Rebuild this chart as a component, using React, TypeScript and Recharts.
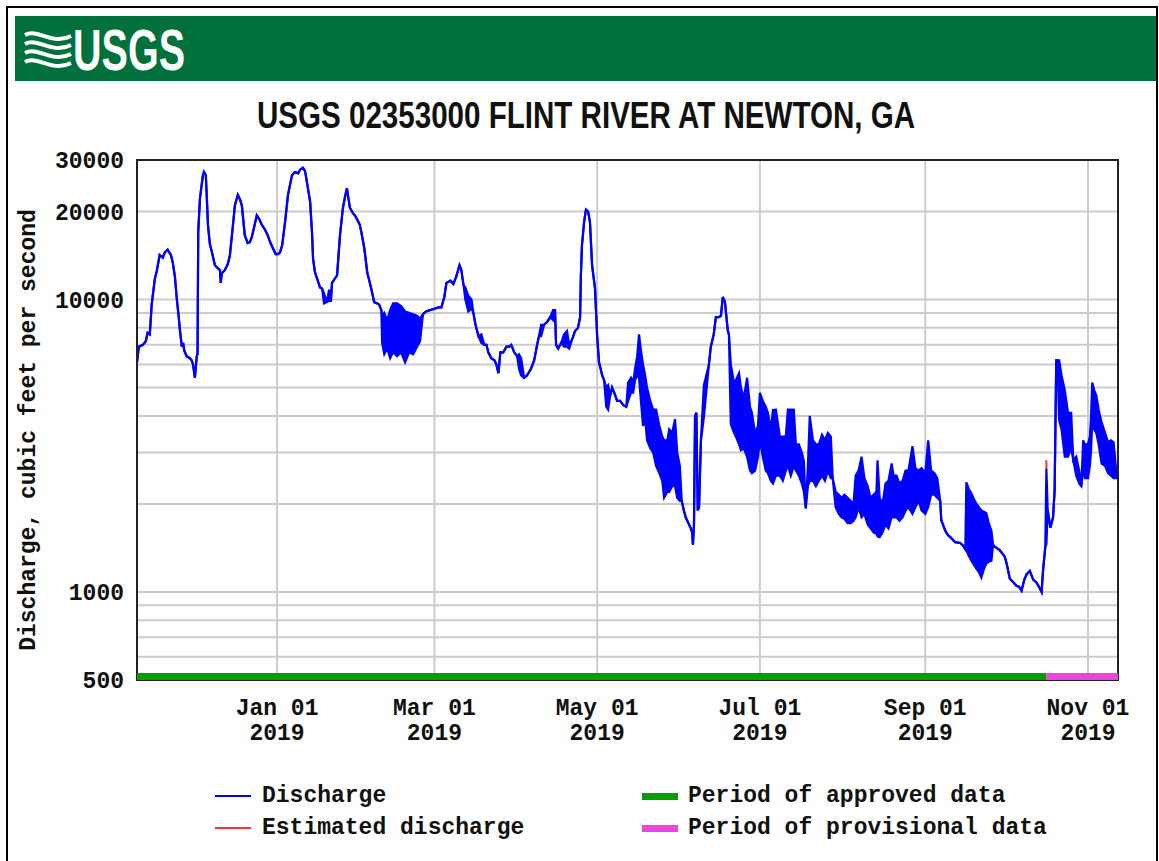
import {
  ComposedChart, Area, Line, XAxis, YAxis, CartesianGrid, ReferenceArea, Legend,
} from 'recharts'

const MONO = "'Liberation Mono', 'DejaVu Sans Mono', monospace"
const SANS = "'Liberation Sans', Arial, sans-serif"
const DAY = 86400000

const BLUE = '#0000ff'
const RED = '#ff3030'
const GREEN = '#00a000'
const PINK = '#ee44dd'

// [day of month, low, high?] -- readings of discharge (cfs)
type Pt = [number, number, number?]

const nov2018: Pt[] = [
  [9.5, 6100], [10.2, 6900], [11.7, 7000], [12.8, 7200], [13.5, 7700], [14.3, 7600], [15.0, 9600],
  [16.2, 11800], [16.9, 12500], [18.0, 14200], [19.2, 13900], [19.9, 14500], [21.0, 14800],
  [22.2, 14200], [22.9, 13400], [23.7, 12000], [24.4, 10100], [25.2, 8600], [25.5, 8000],
  [26.3, 6900], [26.8, 7100], [27.2, 6700], [28.1, 6400], [29.3, 6300], [30.0, 6200], [30.5, 6000],
]

const dec2018: Pt[] = [
  [1.2, 5400], [1.9, 6400], [2.2, 6500], [2.45, 17000], [3.1, 22200], [4.2, 26600], [4.6, 27300],
  [5.3, 26600], [5.7, 22000], [6.1, 18000], [6.8, 15500], [7.6, 14500], [8.7, 13100], [9.8, 12800],
  [10.6, 12600], [10.9, 11400], [11.3, 12300], [12.4, 12600], [13.5, 13200], [14.3, 14100],
  [15.4, 17700], [16.2, 21000], [17.3, 22800], [18.1, 22000], [18.8, 21000], [19.9, 16600],
  [21.0, 15600], [21.8, 15700], [22.5, 16300], [23.6, 18000], [24.4, 19400], [25.5, 18700],
  [26.3, 18000], [27.4, 17400], [28.5, 16600], [29.3, 15800], [30.4, 15000], [31.5, 14300],
]

const jan2019: Pt[] = [
  [1.4, 14300], [2.1, 14500], [2.9, 15300], [4.0, 18400], [5.1, 22800], [6.6, 26600], [7.7, 27300],
  [8.9, 27000], [9.6, 27800], [10.7, 28200], [11.5, 27500], [12.2, 25200], [13.4, 21600],
  [14.1, 17000], [14.5, 13800], [15.2, 12400], [16.0, 11800], [17.1, 11000], [17.9, 10900],
  [18.6, 9700, 10500], [19.7, 9800], [20.5, 9900, 10800], [21.2, 9900], [21.6, 11400], [22.7, 11800],
  [23.5, 12100], [24.6, 16600], [25.7, 20600], [26.5, 22500], [27.2, 24000], [28.3, 20600],
  [29.5, 19700], [30.2, 19400], [31.3, 18600],
]

const feb2019: Pt[] = [
  [1.0, 18000], [1.6, 17000], [2.7, 15000], [3.8, 12400], [5.3, 10900], [6.4, 9800], [7.6, 9700],
  [8.3, 9600], [9.1, 9200], [9.4, 7100, 8800], [10.2, 6500, 9000], [11.3, 6800, 8500],
  [12.4, 6300, 9200], [13.5, 6600, 9700], [15.0, 6400, 9700], [16.5, 6600, 9500], [18.0, 6100, 9100],
  [19.5, 6600, 9000], [21.0, 6500, 8900], [22.5, 6900, 8800], [23.6, 7200, 8600], [24.7, 8900],
  [25.8, 9100], [27.3, 9200],
]

const mar2019: Pt[] = [
  [1.0, 9300], [2.5, 9400], [3.6, 9400], [4.7, 10200], [5.5, 11400], [7.0, 11600], [8.1, 11300],
  [9.2, 12000], [10.4, 13100], [11.1, 12600], [11.9, 11200], [12.6, 10000, 11000], [13.7, 9100, 10300],
  [14.9, 9300, 10000], [15.6, 9000], [16.4, 8200], [17.5, 7500], [18.6, 7100, 7600], [19.7, 7000],
  [20.5, 7000], [21.2, 6600], [22.3, 6300], [23.5, 6200], [24.2, 6000], [25.0, 5600], [25.7, 6600],
  [26.8, 6600], [28.0, 6900], [29.1, 6900], [29.8, 7000], [30.9, 6600],
]

const apr2019: Pt[] = [
  [1.0, 6400], [1.7, 5800, 6500], [2.5, 5500, 6300], [3.6, 5400], [4.7, 5500], [6.2, 5800], [7.4, 6200],
  [8.5, 7000], [9.2, 7500], [10.0, 7500, 8200], [11.1, 8200], [12.3, 8400], [13.4, 8700],
  [14.5, 8500, 9200], [15.2, 9200], [15.6, 7000], [16.4, 6800], [17.5, 7100], [18.6, 6900, 7600],
  [19.7, 6900, 7800], [20.5, 6800, 7000], [21.6, 7300], [22.7, 7800], [23.8, 8000], [24.6, 8700],
  [24.9, 12100], [25.3, 15300], [26.1, 18400], [26.8, 20300], [27.6, 20000], [28.3, 18400],
  [29.1, 13100], [30.2, 10900],
]

const may2019: Pt[] = [
  [1.0, 7500], [1.7, 6100], [2.9, 5500], [3.6, 5300], [4.4, 4300, 5000], [5.1, 4200, 5100], [5.9, 4700],
  [6.6, 5000], [7.4, 4800], [8.5, 4500], [9.6, 4500], [10.8, 4350], [11.9, 4300], [12.6, 4500, 5200],
  [13.7, 4800, 5400], [14.5, 4800, 5200], [15.2, 5300, 5800], [16.0, 5500, 6400], [16.7, 5400, 7600],
  [17.5, 4400, 6600], [18.2, 3700, 6000], [19.0, 3900, 5500], [19.7, 3300, 5000], [20.9, 3100, 4500],
  [22.0, 3000, 4200], [23.1, 2700, 4200], [24.3, 2550, 3700], [25.4, 2400, 3400], [26.1, 2100, 3300],
  [27.3, 2200, 3300], [28.0, 2200, 3600], [29.1, 2300, 3500], [30.2, 2300, 3900], [31.0, 2100, 3000],
]

const jun2019: Pt[] = [
  [1.0, 2050, 2700], [1.7, 2050], [2.5, 1900], [3.2, 1800], [4.2, 1720], [5.1, 1650], [5.6, 1600],
  [5.9, 1450], [6.3, 1700], [6.7, 4000], [7.2, 4100], [7.7, 1900], [8.2, 1950], [8.9, 3300],
  [10.0, 3950, 5100], [11.9, 6000], [12.6, 6900], [13.7, 7600], [14.5, 8700], [15.6, 8700],
  [16.4, 8800], [17.1, 10200], [17.9, 9800], [18.3, 9000], [19.0, 7800], [19.4, 7600],
  [20.1, 3750, 6000], [21.3, 3500, 5200], [22.0, 3400, 5300], [23.2, 3200, 5600], [23.9, 3050, 5000],
  [25.0, 3100, 4600], [26.2, 2900, 5400], [27.3, 2600, 4300], [28.0, 2550, 4100], [29.2, 2600, 3500],
  [30.3, 2900, 3700],
]

const jul2019: Pt[] = [
  [1.0, 3300, 4800], [2.1, 2900, 4500], [3.2, 2600, 4300], [4.0, 2550, 4100], [5.1, 2400, 3600],
  [5.9, 2350, 4190], [7.0, 2500, 4200], [8.5, 2500, 3400], [9.6, 2400, 3400], [10.7, 2600, 3400],
  [11.5, 2700, 4200], [12.6, 2500, 4200], [13.7, 2700, 4200], [14.5, 2600, 3200], [15.6, 2500, 3200],
  [16.7, 2350, 3000], [17.5, 2200, 2800], [18.2, 1930], [19.0, 2300, 2700], [19.7, 2400, 4000],
  [20.9, 2400, 3300], [22.0, 2300, 3200], [23.1, 2400, 3200], [24.3, 2500, 3450], [25.4, 2400, 3300],
  [26.5, 2600, 3500], [27.6, 2450, 3400], [28.3, 2450], [29.4, 1950, 2200], [30.6, 1850, 2150],
  [31.6, 1800, 2100],
]

const aug2019: Pt[] = [
  [1.7, 1780, 2150], [2.9, 1720, 2100], [4.0, 1720, 2050], [5.1, 1750, 2000], [5.9, 1800, 2500],
  [7.0, 1950, 2600], [8.1, 1800, 2900], [9.2, 1850, 2450], [10.4, 1700, 2300], [11.5, 1650, 2100],
  [12.6, 1600, 2150], [13.7, 1580, 2200], [14.1, 1550, 2820], [14.9, 1540, 2100], [16.0, 1600, 2000],
  [17.1, 1700, 2350], [18.2, 1650, 2400], [19.4, 1800, 2750], [20.1, 1800, 2500], [21.2, 1800, 2500],
  [22.3, 1750, 2350], [23.5, 1800, 2400], [24.6, 1900, 2600], [25.7, 1950, 2600], [27.2, 1850, 3150],
  [28.3, 1950, 2650], [29.5, 2050, 2600], [30.6, 1900, 2650],
]

const sep2019: Pt[] = [
  [1.0, 1850, 2550], [2.1, 1950, 3300], [3.2, 2150, 2600], [4.4, 2150, 2550], [5.5, 2100, 2450],
  [6.6, 2050], [7.0, 1760], [8.5, 1620], [9.6, 1560], [10.4, 1540], [12.2, 1480], [14.1, 1470],
  [15.2, 1440], [16.0, 1400], [16.4, 1390, 2370], [17.3, 1330, 2250], [18.3, 1280, 2170],
  [19.2, 1240, 2080], [20.2, 1200, 2000], [21.1, 1170, 1950], [22.0, 1120, 1900], [23.0, 1200, 1880],
  [23.9, 1250, 1860], [24.8, 1270, 1720], [25.8, 1280, 1620], [26.4, 1450], [27.0, 1430],
  [28.9, 1390], [30.0, 1350], [30.8, 1320],
]

const oct2019: Pt[] = [
  [1.5, 1250], [2.7, 1110], [4.0, 1080], [5.2, 1050], [6.2, 1040], [7.1, 1010], [8.1, 1100],
  [9.0, 1150], [10.2, 1180], [11.5, 1100], [12.6, 1080], [13.4, 1050], [14.6, 1000], [15.2, 1200],
  [16.0, 1430], [16.4, 1450, 2650], [16.9, 1900], [17.9, 1660], [18.9, 1800], [19.5, 2230],
  [20.1, 6200], [20.5, 6200], [21.2, 3870, 6200], [22.1, 3580, 5500], [23.3, 2900, 4900],
  [24.5, 2900, 4100], [25.7, 3100, 4100], [26.5, 2820], [27.6, 2500, 2900], [28.7, 2350, 2600],
  [29.5, 2300], [30.2, 2700, 3300], [30.8, 2450, 3200],
]

const nov2019: Pt[] = [
  [1.0, 2450, 3200], [1.7, 2700, 3400], [2.1, 3000, 3900], [2.6, 3800, 5200], [3.3, 3600, 4900],
  [4.1, 3500, 4700], [5.0, 3200, 4200], [6.1, 2750, 3800], [7.4, 2700, 3500], [8.5, 2550, 3250],
  [9.6, 2500, 3300], [10.6, 2450, 3250], [11.5, 2450, 2650], [12.2, 2450],
]

const months: [number, number, Pt[]][] = [
  [2018, 10, nov2018], [2018, 11, dec2018], [2019, 0, jan2019], [2019, 1, feb2019],
  [2019, 2, mar2019], [2019, 3, apr2019], [2019, 4, may2019], [2019, 5, jun2019],
  [2019, 6, jul2019], [2019, 7, aug2019], [2019, 8, sep2019], [2019, 9, oct2019], [2019, 10, nov2019],
]

// estimated discharge (Oct 16, 2019) and data-status periods
const estimated: Pt[] = [[16.35, 2820], [16.45, 2650]]
const PROVISIONAL_START = Date.UTC(2019, 9, 16, 10)

const T0 = Date.UTC(2018, 10, 9, 12)
const T1 = Date.UTC(2019, 10, 12, 6)

const xTicks = [
  Date.UTC(2019, 0, 1), Date.UTC(2019, 2, 1), Date.UTC(2019, 4, 1),
  Date.UTC(2019, 6, 1), Date.UTC(2019, 8, 1), Date.UTC(2019, 10, 1),
]
const yTicks = [500, 600, 700, 800, 900, 1000, 2000, 3000, 4000, 5000, 6000, 7000, 8000, 9000, 10000, 20000, 30000]
const yLabeled = [500, 1000, 10000, 20000, 30000]
const MON = ['Jan', 'Feb', 'Mar', 'Apr', 'May', 'Jun', 'Jul', 'Aug', 'Sep', 'Oct', 'Nov', 'Dec']

const LEGEND_ORDER = ['Discharge', 'Estimated discharge', 'Period of approved data', 'Period of provisional data']

const toT = (y: number, m: number, d: number) => Date.UTC(y, m, 1) + (d - 1) * DAY

const discharge = months.flatMap(([y, m, pts]) =>
  pts.map(([d, lo, hi]) => ({ t: toT(y, m, d), range: [lo, hi ?? lo] }))
)
const estimatedData = estimated.map(([d, v]) => ({ t: toT(2019, 9, d), v }))
const approvedData = [{ t: T0, v: 500 }, { t: PROVISIONAL_START, v: 500 }]
const provisionalData = [{ t: PROVISIONAL_START, v: 500 }, { t: T1, v: 500 }]

function DateTick({ x, y, payload }: any) {
  const d = new Date(payload.value)
  return (
    <text textAnchor="middle" fontFamily={MONO} fontWeight={700} fontSize={23} fill="#111">
      <tspan x={x} y={y + 35}>{`${MON[d.getUTCMonth()]} 01`}</tspan>
      <tspan x={x} y={y + 60}>{d.getUTCFullYear()}</tspan>
    </text>
  )
}

function LegendBox({ payload }: any) {
  const items = LEGEND_ORDER.map(n => (payload || []).find((p: any) => p.value === n)).filter(Boolean)
  return (
    <div style={{ position: 'relative', width: 1159, height: 64, fontFamily: MONO, fontWeight: 700, fontSize: 23, color: '#111' }}>
      {items.map((e: any, i: number) => {
        const period = String(e.value).startsWith('Period')
        return (
          <div
            key={e.value}
            style={{
              position: 'absolute', left: i < 2 ? 215 : 642, top: (i % 2) * 32, height: 32,
              display: 'flex', alignItems: 'center', whiteSpace: 'nowrap',
            }}
          >
            <span style={{ display: 'inline-block', width: 36, height: period ? 7 : 2, background: e.color, marginRight: period ? 10 : 11 }} />
            {e.value}
          </div>
        )
      })}
    </div>
  )
}

function Header() {
  return (
    <svg width={1159} height={861} style={{ position: 'absolute', left: 0, top: 0 }}>
      <rect x={7} y={7} width={1150} height={880} fill="none" stroke="#000" strokeWidth={2} />
      <rect x={15} y={16} width={1141} height={65} fill="#00703c" />
      <g fill="none" stroke="#fff" strokeWidth={4}>
        {[0, 1, 2, 3].map(i => (
          <path key={i} d={`M25,${35 + i * 9} C38,${28 + i * 9} 52,${46 + i * 9} 71,${36 + i * 9}`} />
        ))}
      </g>
      <text x={73} y={70} fill="#fff" fontFamily={SANS} fontWeight={700} fontSize={58} textLength={112} lengthAdjust="spacingAndGlyphs">USGS</text>
      <text x={257} y={128} fill="#111" fontFamily={SANS} fontWeight={700} fontSize={36} textLength={658} lengthAdjust="spacingAndGlyphs">
        USGS 02353000 FLINT RIVER AT NEWTON, GA
      </text>
    </svg>
  )
}

export default function App() {
  return (
    <div style={{ position: 'absolute', left: 0, top: 0, width: 1159, height: 861, background: '#fff' }}>
      <Header />
      <div style={{ position: 'absolute', left: 0, top: 0 }}>
        <ComposedChart width={1159} height={861} data={discharge} margin={{ top: 160, right: 41, bottom: 0, left: 0 }}>
          <CartesianGrid stroke="#cccccc" strokeWidth={2} />
          <XAxis
            dataKey="t"
            type="number"
            domain={[T0, T1]}
            allowDataOverflow
            ticks={xTicks}
            interval={0}
            tick={<DateTick />}
            tickLine={false}
            axisLine={false}
            tickSize={0}
            tickMargin={0}
            height={181}
          />
          <YAxis
            type="number"
            scale="log"
            domain={[500, 30000]}
            allowDataOverflow
            ticks={yTicks}
            interval={0}
            width={137}
            tickLine={false}
            axisLine={false}
            tickSize={0}
            tickMargin={13}
            tickFormatter={v => (yLabeled.includes(v) ? String(v) : '')}
            tick={{ fontFamily: MONO, fontWeight: 700, fontSize: 23, fill: '#111' }}
            label={({ viewBox }: any) => (
              <text
                transform={`translate(${viewBox.x + 35}, ${viewBox.y + viewBox.height / 2 + 10}) rotate(-90)`}
                textAnchor="middle"
                fontFamily={MONO}
                fontWeight={700}
                fontSize={23}
                fill="#111"
              >
                Discharge, cubic feet per second
              </text>
            )}
          />
          <Area
            name="Discharge"
            dataKey="range"
            type="linear"
            stroke={BLUE}
            strokeWidth={2.2}
            fill={BLUE}
            fillOpacity={1}
            dot={false}
            activeDot={false}
            isAnimationActive={false}
          />
          <Line name="Estimated discharge" data={estimatedData} dataKey="v" stroke={RED} strokeWidth={2} dot={false} isAnimationActive={false} />
          {/* status bars sit on the 500 floor; the plot clip keeps the upper half */}
          <Line name="Period of approved data" data={approvedData} dataKey="v" stroke={GREEN} strokeWidth={14} dot={false} isAnimationActive={false} />
          <Line name="Period of provisional data" data={provisionalData} dataKey="v" stroke={PINK} strokeWidth={14} dot={false} isAnimationActive={false} />
          <ReferenceArea x1={T0} x2={T1} y1={500} y2={30000} fill="none" stroke="#222" strokeWidth={2} />
          <Legend
            layout="horizontal"
            verticalAlign="middle"
            align="center"
            wrapperStyle={{ left: 0, top: 780, width: 1159 }}
            content={<LegendBox />}
          />
        </ComposedChart>
      </div>
    </div>
  )
}
